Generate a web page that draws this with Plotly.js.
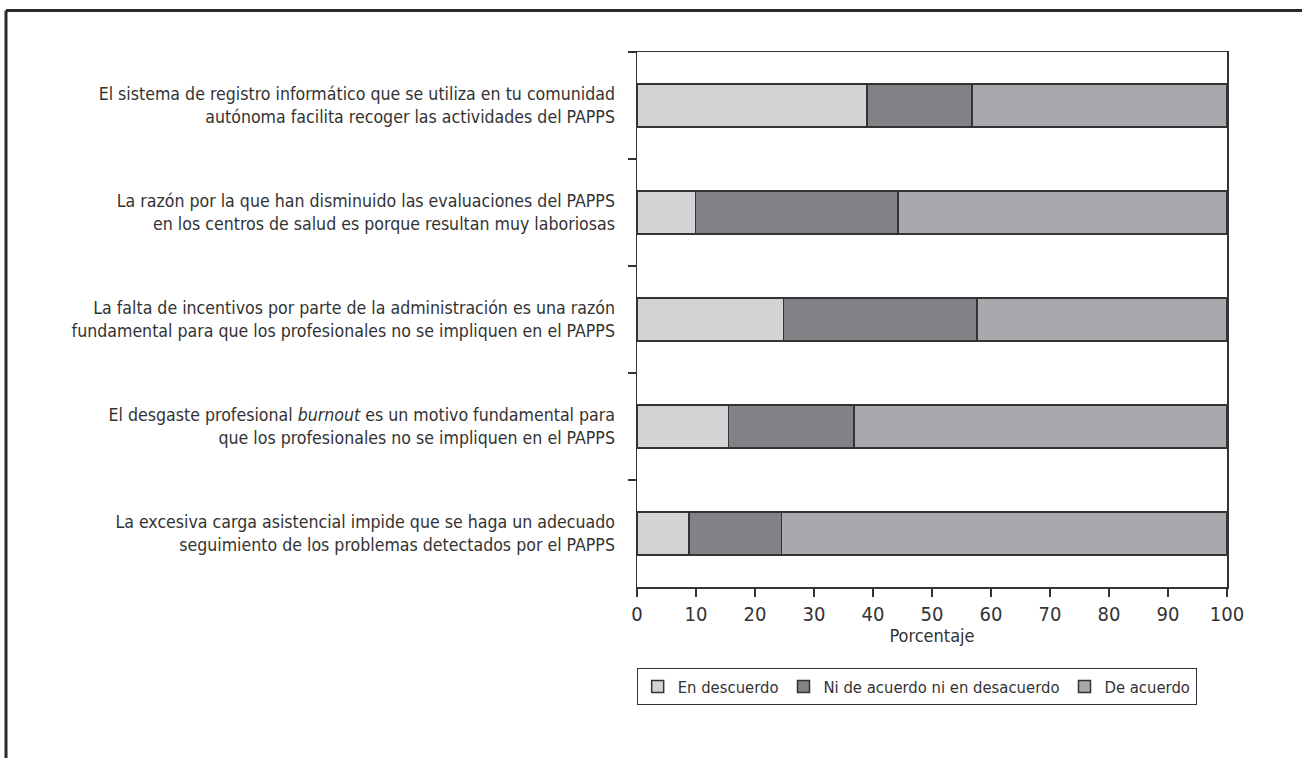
<!DOCTYPE html>
<html>
<head>
<meta charset="utf-8">
<script src="https://cdn.plot.ly/plotly-3.0.1.min.js"></script>
<style>
html,body{margin:0;padding:0;background:#fff;}
#chart{width:1302px;height:758px;}
</style>
</head>
<body>
<div id="chart"></div>
<script>
var categories = [
  "El sistema de registro informático que se utiliza en tu comunidad<br>autónoma facilita recoger las actividades del PAPPS",
  "La razón por la que han disminuido las evaluaciones del PAPPS<br>en los centros de salud es porque resultan muy laboriosas",
  "La falta de incentivos por parte de la administración es una razón<br>fundamental para que los profesionales no se impliquen en el PAPPS",
  "El desgaste profesional <i>burnout</i> es un motivo fundamental para<br>que los profesionales no se impliquen en el PAPPS",
  "La excesiva carga asistencial impide que se haga un adecuado<br>seguimiento de los problemas detectados por el PAPPS"
];
var seriesNames = ["En descuerdo", "Ni de acuerdo ni en desacuerdo", "De acuerdo"];
var enDesacuerdo = [39.0, 9.9, 24.8, 15.5, 8.8];
var niNi = [17.8, 34.3, 32.8, 21.3, 15.7];
var deAcuerdo = [43.2, 55.8, 42.4, 63.2, 75.5];
var xTicks = [0, 10, 20, 30, 40, 50, 60, 70, 80, 90, 100];

var colors = ["#d2d3d5", "#818286", "#a8a9ac"];
var values = [enDesacuerdo, niNi, deAcuerdo];
var fontFam = '"Liberation Sans Narrow", "DejaVu Sans Condensed", Arial, sans-serif';

var traces = values.map(function (v, i) {
  return {
    type: "bar",
    orientation: "h",
    name: seriesNames[i],
    x: v,
    y: categories,
    marker: {color: colors[i], line: {color: "#333333", width: 1.5}},
    hoverinfo: "x+name"
  };
});

var layout = {
  width: 1302,
  height: 758,
  barmode: "stack",
  bargap: 0.6,
  paper_bgcolor: "#ffffff",
  plot_bgcolor: "#ffffff",
  font: {family: fontFam, color: "#333333", size: 16},
  margin: {l: 637, r: 75, t: 52, b: 171, pad: 0, autoexpand: false},
  showlegend: true,
  legend: {
    orientation: "h",
    xref: "container",
    x: 0.489, xanchor: "left",
    y: -0.152, yanchor: "top",
    bordercolor: "#333333", borderwidth: 1,
    font: {family: fontFam, size: 16.5, color: "#333333"},
    traceorder: "normal",
    itemwidth: 30,
    tracegroupgap: 0
  },
  xaxis: {
    range: [0, 100],
    tickvals: xTicks,
    ticktext: xTicks.map(String),
    ticks: "outside",
    ticklen: 8,
    tickwidth: 1.5,
    tickcolor: "#333333",
    showline: true,
    linecolor: "#333333",
    linewidth: 1.5,
    mirror: true,
    showgrid: false,
    zeroline: false,
    automargin: false,
    tickfont: {family: fontFam, size: 20, color: "#333333"},
    title: {text: "Porcentaje", font: {family: fontFam, size: 18, color: "#333333"}, standoff: 1}
  },
  yaxis: {
    type: "category",
    autorange: "reversed",
    tickson: "boundaries",
    ticks: "outside",
    ticklen: 8,
    tickwidth: 1.5,
    tickcolor: "#333333",
    showline: true,
    linecolor: "#333333",
    linewidth: 1.5,
    mirror: true,
    showgrid: false,
    zeroline: false,
    automargin: false,
    ticklabelstandoff: 17,
    tickfont: {family: fontFam, size: 17.6, color: "#333333"}
  },
  shapes: [
    {type: "line", xref: "paper", yref: "paper", x0: -1.0695, x1: 1.2, y0: 1.0775, y1: 1.0775,
     line: {color: "#2a2a2a", width: 3}},
    {type: "line", xref: "paper", yref: "paper", x0: -1.0695, x1: -1.0695, y0: 1.0775, y1: -0.4,
     line: {color: "#2a2a2a", width: 3}}
  ]
};

Plotly.newPlot("chart", traces, layout, {displayModeBar: false, staticPlot: true});
</script>
</body>
</html>
